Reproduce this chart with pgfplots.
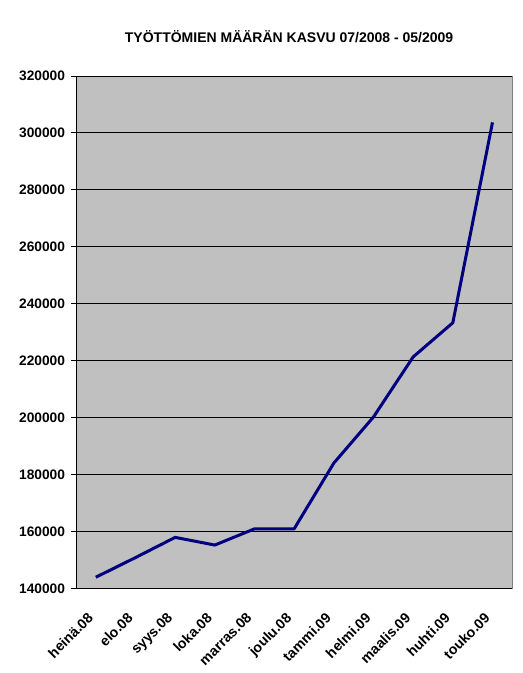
\documentclass[border=0pt]{standalone}
\usepackage{fontspec}
\setmainfont{Liberation Sans}
\usepackage{pgfplots}
\pgfplotsset{compat=1.18}
\definecolor{excelgray}{RGB}{192,192,192}
\definecolor{bordergray}{RGB}{128,128,128}
\definecolor{navyline}{RGB}{0,0,128}
\begin{document}
\begin{tikzpicture}
\path[use as bounding box] (-57pt,-63.5pt) rectangle (334.5pt,441.2pt);
\begin{axis}[
  at={(0,0)}, anchor=south west,
  scale only axis, width=327.2pt, height=384.2pt,
  xmin=-0.5, xmax=10.5, ymin=140000, ymax=320000,
  axis background/.style={fill=excelgray, draw=bordergray, line width=0.75pt},
  axis x line*=bottom, axis y line*=left,
  axis line style={black, line width=0.75pt, -},
  ytick={140000,160000,...,320000},
  ymajorgrids, grid style={black, line width=0.75pt},
  scaled ticks=false,
  /pgf/number format/.cd, fixed, 1000 sep={}, assume math mode=true,
  /pgfplots/.cd,
  tick align=outside,
  major tick length=3.75pt,
  minor tick length=3.75pt,
  tick style={black, line width=0.75pt},
  xtick={0,...,10},
  xticklabels={heinä.08,elo.08,syys.08,loka.08,marras.08,joulu.08,tammi.09,helmi.09,maalis.09,huhti.09,touko.09},
  x tick style={draw=none},
  minor xtick={-0.5,0.5,...,10.5},
  yticklabel style={font=\bfseries\fontsize{10.3}{12}\selectfont, xshift=-1pt},
  xticklabel style={font=\bfseries\fontsize{10.6}{12}\selectfont, xshift=-6.8pt, yshift=-8.9pt, rotate=45, anchor=north east},
  clip=false,
]
\addplot[color=navyline, line width=2.25pt, line join=round] coordinates {
  (0,143900) (1,150800) (2,157900) (3,155200) (4,160900) (5,160900)
  (6,184000) (7,200200) (8,221300) (9,233300) (10,303700)
};
\end{axis}
\node[font=\bfseries\fontsize{10.5}{12}\selectfont] at (159.8pt,414pt) {TYÖTTÖMIEN MÄÄRÄN KASVU 07/2008 - 05/2009};
\end{tikzpicture}
\end{document}
